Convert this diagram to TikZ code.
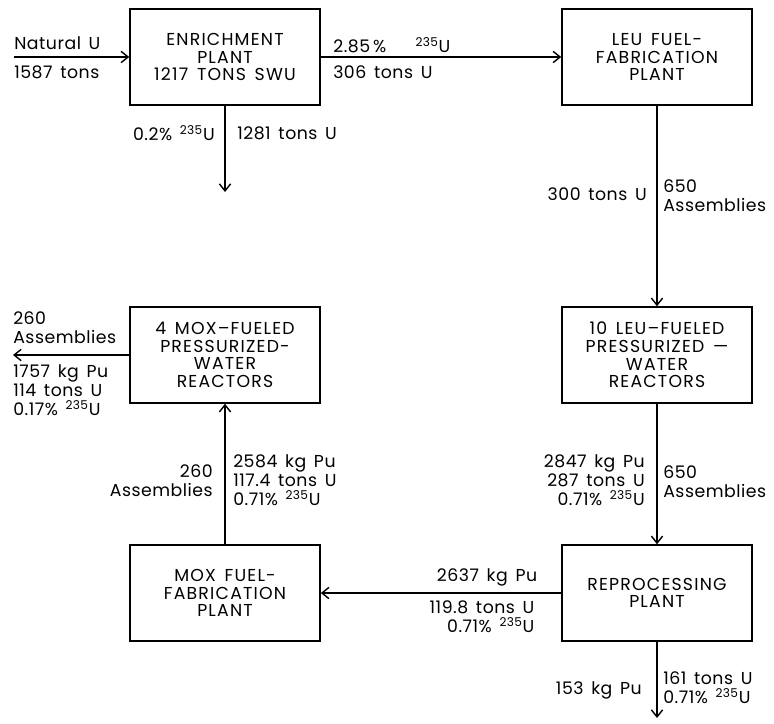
\documentclass[tikz,border=0pt]{standalone}
\usepackage{fontspec}
\setmainfont{Poppins}[WordSpace=1.5]
\usepackage{tikz}
\usetikzlibrary{arrows.meta,positioning}
\newcommand{\flowfont}{\fontsize{12.3}{13.5}\selectfont\addfontfeature{LetterSpace=3}}
\newcommand{\plantfont}{\fontsize{12.3}{12.6}\selectfont\addfontfeature{LetterSpace=7}}
\newcommand{\iso}{\textsuperscript{235}U}
\tikzset{
  plant/.style={rectangle,draw,line width=1.1pt,minimum width=4.75cm,minimum height=2.4cm,align=center,font=\plantfont,inner sep=2pt},
  flow/.style={font=\flowfont,inner sep=0pt},
  feed/.style={-{Straight Barb[length=5pt,width=8pt]},line width=1pt},
}

\begin{document}
\begin{tikzpicture}[x=0.025cm,y=-0.025cm]
\useasboundingbox (0,0) rectangle (774,723);
% plants
\node[plant] (enrich) at (225,57) {ENRICHMENT\\PLANT\\1217 TONS SWU};
\node[plant] (leufab) at (657,57) {LEU FUEL-\\FABRICATION\\PLANT};
\node[plant] (leupwr) at (657,355) {10 LEU--FUELED\\PRESSURIZED ---\\WATER\\REACTORS};
\node[plant] (repro) at (657,593) {REPROCESSING\\PLANT};
\node[plant] (moxfab) at (225,593) {MOX FUEL-\\FABRICATION\\PLANT};
\node[plant] (moxpwr) at (225,355) {4 MOX--FUELED\\PRESSURIZED-\\WATER\\REACTORS};
% free ends
\coordinate (natin) at (14,57);
\coordinate (tails) at (225,192);
\coordinate (spent) at (13,355);
\coordinate (waste) at (657,718);
% flows
\draw[feed] (natin) -- (enrich.west);
\draw[feed] (enrich.east) -- (leufab.west);
\draw[feed] (enrich.south) -- (tails);
\draw[feed] (leufab.south) -- (leupwr.north);
\draw[feed] (leupwr.south) -- (repro.north);
\draw[feed] (repro.west) -- (moxfab.east);
\draw[feed] (moxfab.north) -- (moxpwr.south);
\draw[feed] (moxpwr.west) -- (spent);
\draw[feed] (repro.south) -- (waste);
% flow labels
\node[flow,anchor=west] (natname) at (14,43) {Natural U};
\node[flow,anchor=west] (natmass) at (14,72) {1587 tons};
\node[flow,anchor=west] (leuassay) at (333,45) {2.85\,\%\hspace{1.7em}\iso};
\node[flow,anchor=west] (leumass) at (333,72) {306 tons U};
\node[flow,anchor=east] (tailassay) at (215,133) {0.2\% \iso};
\node[flow,anchor=west] (tailmass) at (237,133) {1281 tons U};
\node[flow,anchor=east] (fabmass) at (647,194) {300 tons U};
\node[flow,anchor=west,align=left] (fabcount) at (663,196) {650\\Assemblies};
\node[flow,anchor=east,align=right] (spentlev) at (645,480) {2847 kg Pu\\287 tons U\\0.71\% \iso};
\node[flow,anchor=west,align=left] (spentcount) at (663,482) {650\\Assemblies};
\node[flow] (puout) at (487,577) {2637 kg Pu};
\node[flow,align=right] (uout) at (482,617) {119.8 tons U\\0.71\% \iso};
\node[flow,anchor=east] (puwaste) at (642,690) {153 kg Pu};
\node[flow,anchor=west,align=left] (uwaste) at (663,688) {161 tons U\\0.71\% \iso};
\node[flow,anchor=east,align=right] (moxcount) at (213,481) {260\\Assemblies};
\node[flow,anchor=west,align=left] (moxlev) at (233,480) {2584 kg Pu\\117.4 tons U\\0.71\% \iso};
\node[flow,anchor=west,align=left] (outcount) at (13,328) {260\\Assemblies};
\node[flow,anchor=west,align=left] (outlev) at (13,390) {1757 kg Pu\\114 tons U\\0.17\% \iso};
\end{tikzpicture}
\end{document}
